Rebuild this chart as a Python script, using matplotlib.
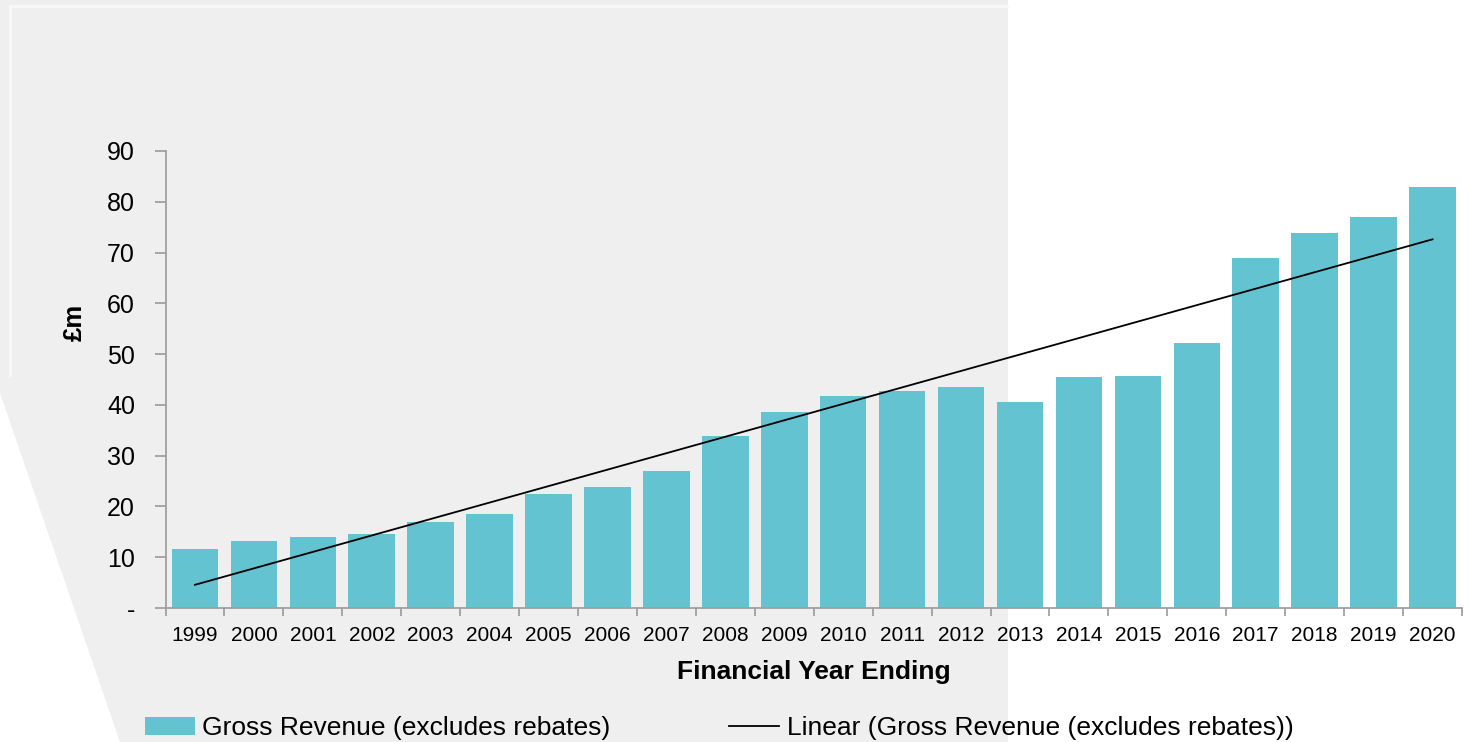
import numpy as np
import matplotlib
matplotlib.use("Agg")
import matplotlib.pyplot as plt
from matplotlib.patches import Polygon
from matplotlib.lines import Line2D

years = ["1999", "2000", "2001", "2002", "2003", "2004", "2005", "2006", "2007", "2008", "2009",
         "2010", "2011", "2012", "2013", "2014", "2015", "2016", "2017", "2018", "2019", "2020"]
revenue = [11.6, 13.1, 14.0, 14.6, 16.9, 18.5, 22.4, 23.8, 27.0, 33.9, 38.6,
           41.7, 42.7, 43.5, 40.6, 45.5, 45.7, 52.2, 68.9, 73.8, 77.0, 82.9]
yticks = [0, 10, 20, 30, 40, 50, 60, 70, 80, 90]
ytick_labels = ["-", "10", "20", "30", "40", "50", "60", "70", "80", "90"]
bar_label = "Gross Revenue (excludes rebates)"
trend_label = "Linear (Gross Revenue (excludes rebates))"

plt.rcParams['font.family'] = ['Liberation Sans', 'DejaVu Sans']

W, H = 1468, 742
fig = plt.figure(figsize=(W / 100, H / 100), dpi=100, facecolor="white")

def px(x, y):
    return (x / W, 1 - y / H)

# background grey shape
bg = Polygon([px(0, 0), px(1008, 0), px(1008, 742), px(120, 742), px(0, 393)],
             closed=True, transform=fig.transFigure, facecolor="#efefef",
             edgecolor="none", zorder=0)
fig.patches.append(bg)
fig.lines.append(Line2D([px(10, 6)[0], px(1008, 6)[0]], [px(10, 6)[1], px(1008, 6)[1]],
                        transform=fig.transFigure, color="#f8f8f8", lw=2, zorder=0.5))
fig.lines.append(Line2D([px(10, 6)[0], px(10, 375)[0]], [px(10, 6)[1], px(10, 375)[1]],
                        transform=fig.transFigure, color="#f8f8f8", lw=2, zorder=0.5))

left, right = 165.5 / W, 1462 / W
bottom, top = 1 - 608 / H, 1 - 151 / H
ax = fig.add_axes([left, bottom, right - left, top - bottom])
ax.set_zorder(2)
ax.set_facecolor("none")

x = np.arange(len(years))
bars = ax.bar(x, revenue, width=0.79, color="#63c3d1", label=bar_label, zorder=2)
coef = np.polyfit(x, revenue, 1)
trend, = ax.plot(x, np.polyval(coef, x), color="black", lw=1.3, label=trend_label, zorder=3)

ax.set_xlim(-0.5, len(years) - 0.5)
ax.set_ylim(0, 90)
ax.set_yticks(yticks)
ax.set_yticklabels(ytick_labels, fontsize=18)
ax.set_xticks(x)
ax.set_xticklabels(years, fontsize=15)
ax.set_xticks(np.arange(-0.5, len(years), 1), minor=True)
ax.tick_params(axis="x", which="major", length=0, pad=13)
ax.tick_params(axis="x", which="minor", length=6, color="#a0a0a0", width=1.3)
ax.tick_params(axis="y", length=8, color="#a0a0a0", width=1.3, pad=14)

for s in ["top", "right"]:
    ax.spines[s].set_visible(False)
for s in ["left", "bottom"]:
    ax.spines[s].set_color("#a0a0a0")
    ax.spines[s].set_linewidth(1.3)

ax.set_xlabel("Financial Year Ending", fontsize=19, fontweight="bold", labelpad=11)
fig.text(75 / W, 1 - 322 / H, "£m", rotation=90, fontsize=18.5, fontweight="bold",
         ha="center", va="center")

fig.legend([bars, trend], [bar_label, trend_label], loc="center left",
           bbox_to_anchor=(145 / W, 1 - 728 / H),
           ncol=2, frameon=False, fontsize=19, handlelength=1.9, handletextpad=0.27,
           columnspacing=4.5, borderaxespad=0, borderpad=0)

fig.savefig("out.png", dpi=100, facecolor="white")
